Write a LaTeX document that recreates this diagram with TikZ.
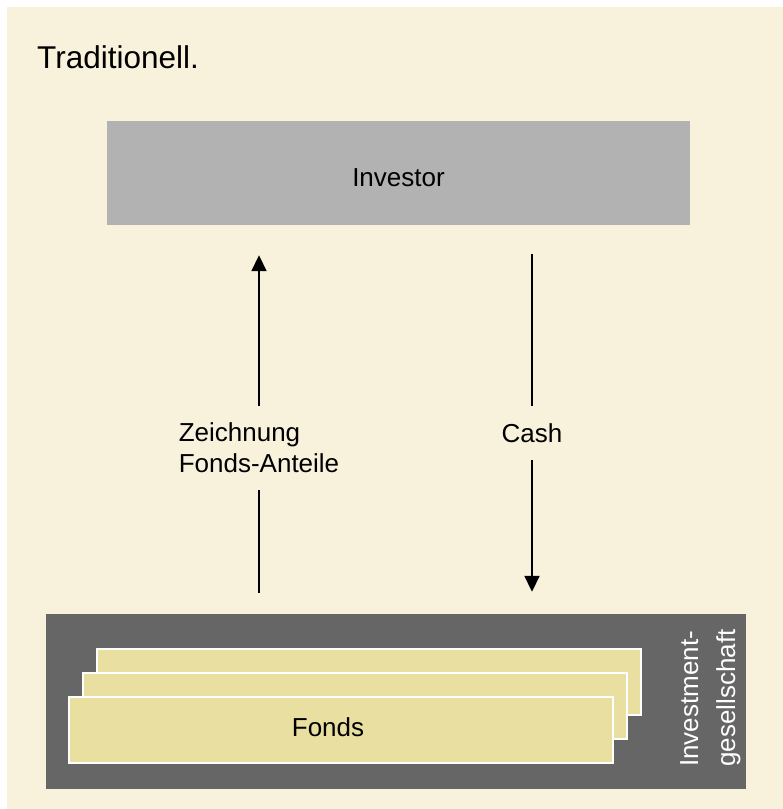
\documentclass[tikz,border=0pt]{standalone}
\usepackage{fontspec}
\setmainfont{Liberation Sans}
\usetikzlibrary{arrows.meta}
\definecolor{bgbeige}{RGB}{248,242,221}
\definecolor{invgrey}{RGB}{178,178,178}
\definecolor{kagdark}{RGB}{102,102,102}
\definecolor{fondgelb}{RGB}{233,223,160}
\begin{document}
\begin{tikzpicture}[x=1pt,y=-1pt,
	txt/.style={font=\fontsize{26}{31}\selectfont},
	fondsbox/.style={draw=white,line width=1.5pt,fill=fondgelb,minimum width=544pt,minimum height=66pt,inner sep=0},
	flow/.style={line width=1.8pt,-{Triangle[width=15pt,length=16pt]}},
	gap/.style={txt,fill=bgbeige,inner xsep=4pt,inner ysep=17pt}]
	\useasboundingbox (0,0) rectangle (783,809);
	\fill[bgbeige] (7,7) rectangle (783,809);
	\node[font=\fontsize{31.5}{37}\selectfont,anchor=base west,inner sep=0] (titel) at (37,68) {Traditionell.};
	\node[txt,fill=invgrey,minimum width=583pt,minimum height=104pt,inner sep=0,text height=27.6pt,text depth=0pt] (investor) at (398.5,173) {Investor};
	\node[fill=kagdark,minimum width=700pt,minimum height=175pt,inner sep=0] (kag) at (396,701.5) {};
	\node[fondsbox] (fonds3) at (369,682) {};
	\node[fondsbox] (fonds2) at (355,706) {};
	\node[fondsbox,label={[txt,xshift=-13pt,yshift=3pt]center:Fonds}] (fonds1) at (341,730) {};
	\node[text=white,rotate=90,align=left,anchor=north west,inner sep=0,font=\fontsize{26}{37}\selectfont] (kagtext) at (680,767) {Investment-\\gesellschaft};
	\coordinate (zx) at (259,0);
	\coordinate (cx) at (532,0);
	\draw[flow,shorten <=21pt,shorten >=30pt] (kag.north -| zx) -- node[gap,align=left,pos=.4267]{Zeichnung\\Fonds-Anteile} (investor.south -| zx);
	\draw[flow,shorten <=29pt,shorten >=22pt] (investor.south -| cx) -- node[gap,pos=.5347]{Cash} (kag.north -| cx);
\end{tikzpicture}
\end{document}
